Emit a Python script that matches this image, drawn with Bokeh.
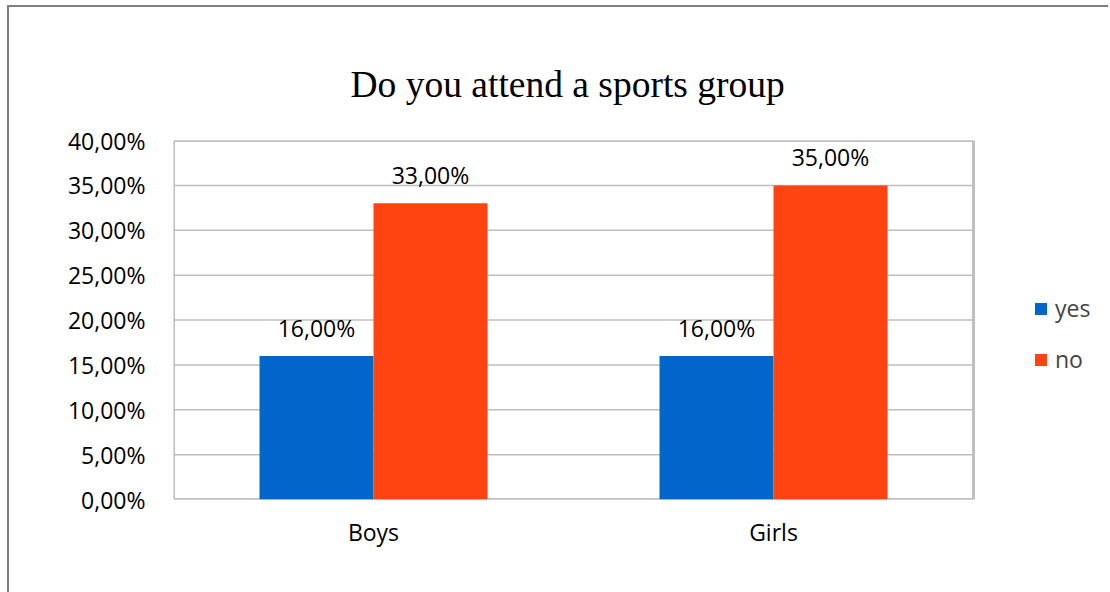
from bokeh.plotting import figure
from bokeh.models import Range1d, ColumnDataSource, LabelSet, Legend, LegendItem, CustomJSTickFormatter, FixedTicker
from bokeh.embed import file_html
from bokeh.resources import INLINE
from bokeh.core.properties import value

categories = ["Boys", "Girls"]
yes_values = [0.16, 0.16]
no_values = [0.33, 0.35]
yes_labels = ["16,00%", "16,00%"]
no_labels = ["33,00%", "35,00%"]
y_ticks = [0.0, 0.05, 0.10, 0.15, 0.20, 0.25, 0.30, 0.35, 0.40]

SANS = "Open Sans"
BLUE = "#0066CC"
ORANGE = "#FF4411"
GRID = "#BFBFBF"

n = len(categories)
centers = [i + 0.5 for i in range(n)]
bw = 0.285

src = ColumnDataSource(dict(xy=[c - bw / 2 for c in centers], xn=[c + bw / 2 for c in centers],
                            yes=yes_values, no=no_values, yes_lab=yes_labels, no_lab=no_labels))

# plot area spans the categories; extra room on the right holds the legend
x_end = n + 137 / 400
p = figure(width=1101, height=587, x_range=Range1d(0, x_end), y_range=Range1d(0, 0.40),
           output_backend="svg", toolbar_location=None,
           min_border_left=164, min_border_right=0, min_border_top=133, min_border_bottom=95)
p.styles = {"border-left": "2px solid #7f7f7f", "border-top": "2px solid #7f7f7f",
            "margin-left": "7px", "margin-top": "5px"}
p.outline_line_color = None

p.title.text = "Do you attend a sports group"
p.title.text_font = "Liberation Serif"
p.title.text_font_size = "37.5px"
p.title.text_font_style = "normal"
p.title.align = "left"
p.title.text_color = "#000000"
p.title.standoff = 72
p.title.offset = 177

# gridlines and plot-area border
p.xgrid.grid_line_color = None
p.ygrid.grid_line_color = None
p.segment(x0=[0] * len(y_ticks), x1=[n] * len(y_ticks), y0=y_ticks, y1=y_ticks,
          line_color=GRID, line_width=1.5)
p.quad(left=[0], right=[n], bottom=[0], top=[y_ticks[-1]], fill_color=None,
       line_color=GRID, line_width=3)

r_yes = p.vbar(x="xy", top="yes", width=bw, source=src, fill_color=BLUE, line_color=None)
r_no = p.vbar(x="xn", top="no", width=bw, source=src, fill_color=ORANGE, line_color=None)

lab_font = "23px"
p.add_layout(LabelSet(x="xy", y="yes", text="yes_lab", source=src,
                      text_align="center", text_baseline="alphabetic", y_offset=19,
                      text_font=value(SANS), text_font_size=lab_font, text_color="#000000"))
p.add_layout(LabelSet(x="xn", y="no", text="no_lab", source=src,
                      text_align="center", text_baseline="alphabetic", y_offset=19,
                      text_font=value(SANS), text_font_size=lab_font, text_color="#000000"))

# axes
p.yaxis.ticker = FixedTicker(ticks=y_ticks)
p.yaxis.formatter = CustomJSTickFormatter(code="return (tick*100).toFixed(2).replace('.', ',') + '%';")
p.xaxis.ticker = FixedTicker(ticks=centers)
p.xaxis.major_label_overrides = {c: lab for c, lab in zip(centers, categories)}
for ax in (p.xaxis[0], p.yaxis[0]):
    ax.axis_line_color = None
    ax.major_tick_line_color = None
    ax.minor_tick_line_color = None
    ax.major_label_text_font = SANS
    ax.major_label_text_font_size = "23px"
    ax.major_label_text_color = "#000000"
p.yaxis.major_label_standoff = 22
p.xaxis.major_label_standoff = 10

legend = Legend(items=[LegendItem(label="yes", renderers=[r_yes]), LegendItem(label="no", renderers=[r_no])],
                location=(860, 124), orientation="vertical")
legend.glyph_width = 15
legend.glyph_height = 15
legend.label_height = 20
legend.spacing = 19
legend.padding = 0
legend.margin = 0
legend.label_standoff = 7
legend.label_text_font = SANS
legend.label_text_font_size = "23px"
legend.border_line_color = None
legend.background_fill_alpha = 0
p.add_layout(legend, "center")

open("out.html", "w").write(file_html(p, INLINE))
